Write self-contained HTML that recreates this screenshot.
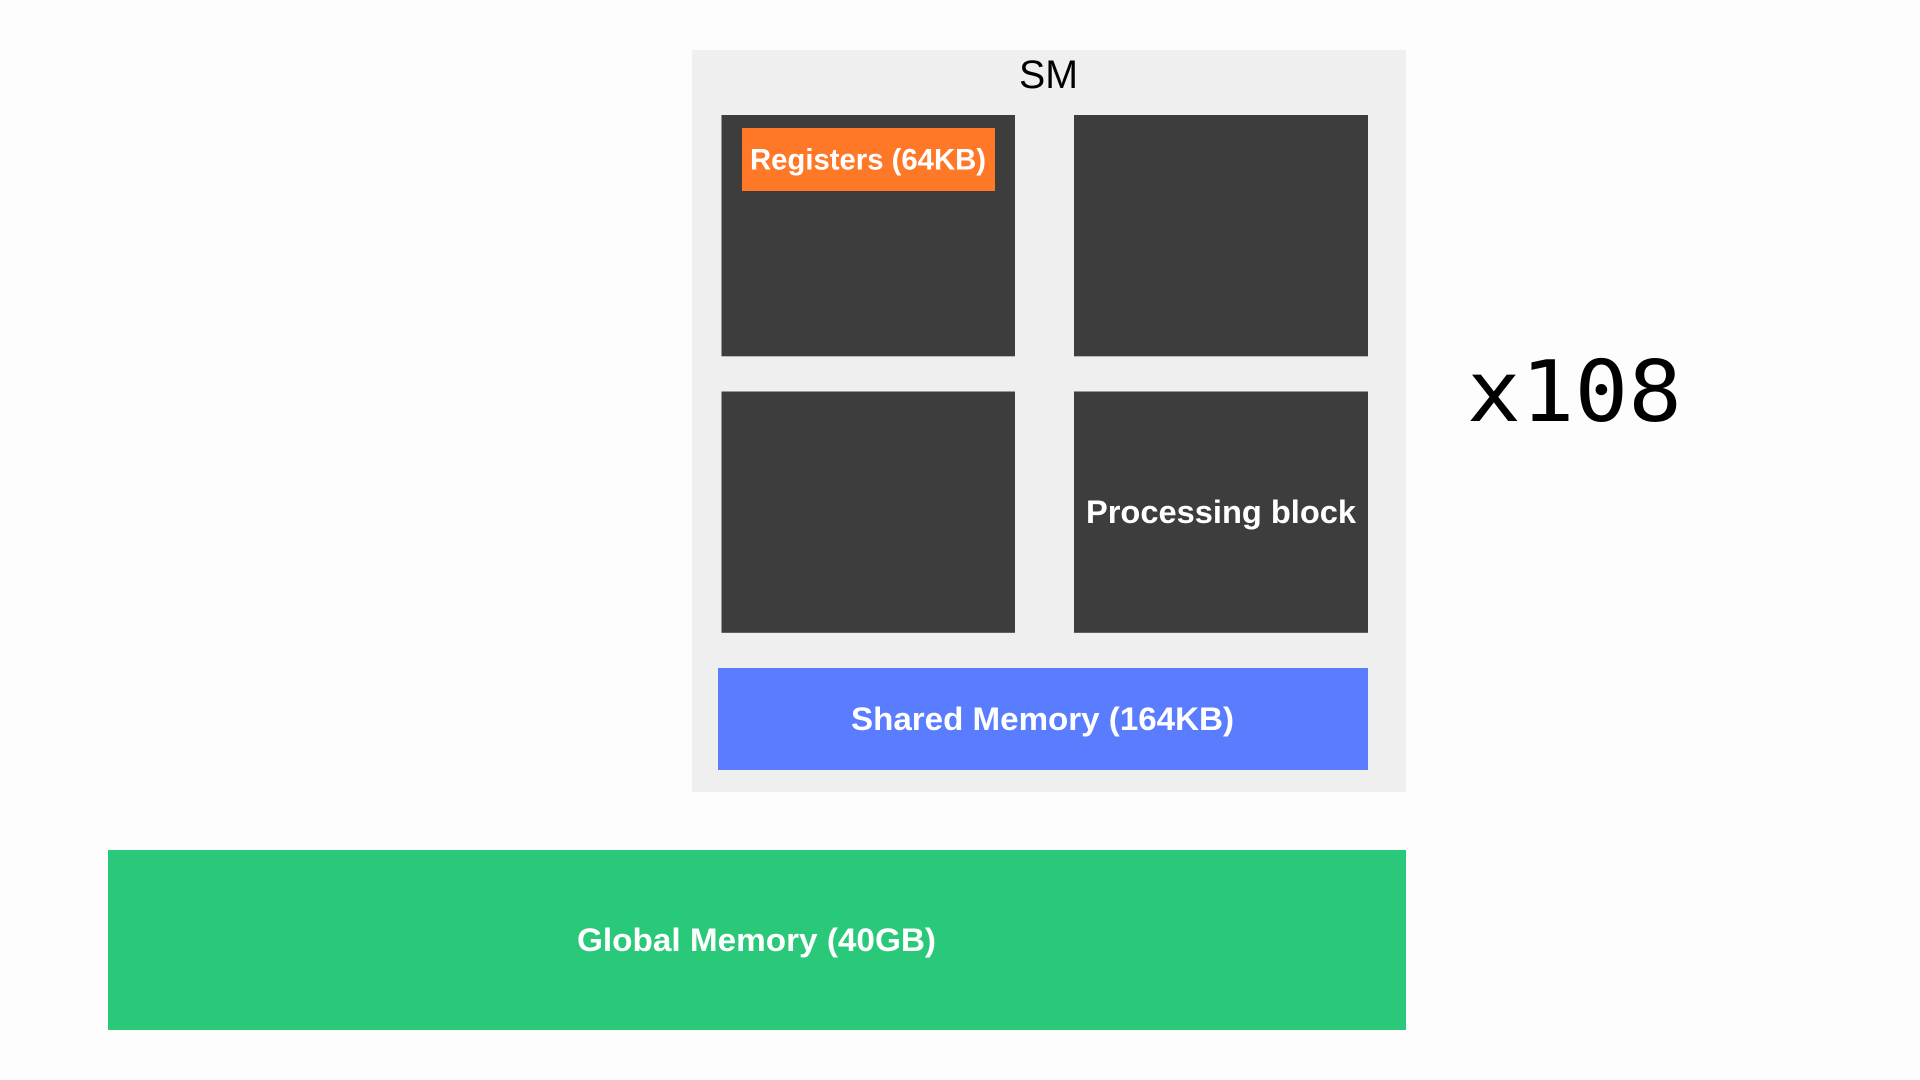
<!DOCTYPE html>
<html><head><meta charset="utf-8"><style>
html,body{margin:0;padding:0;background:#fdfdfd;width:1920px;height:1080px;overflow:hidden}
svg{display:block}
text{font-family:"Liberation Sans",sans-serif}
.b{font-weight:700;font-size:32px;fill:#fff}
</style></head><body>
<svg width="1920" height="1080" viewBox="0 0 1920 1080" xmlns="http://www.w3.org/2000/svg">
<rect width="1920" height="1080" fill="#fdfdfd"/>
<rect x="692" y="50" width="714" height="742" fill="#efefef"/>
<rect x="721.5" y="115" width="293.5" height="241.3" fill="#3d3d3d"/>
<rect x="1074" y="115" width="294" height="241.3" fill="#3d3d3d"/>
<rect x="721.5" y="391.5" width="293.5" height="241.3" fill="#3d3d3d"/>
<rect x="1074" y="391.5" width="294" height="241.3" fill="#3d3d3d"/>
<rect x="742" y="128" width="253" height="63" fill="#ff7828"/>
<rect x="718" y="668" width="650" height="102" fill="#5a7dff"/>
<rect x="108" y="850" width="1298" height="180" fill="#2ac979"/>
<text x="1019" y="88" font-size="40" fill="#000" textLength="59" lengthAdjust="spacingAndGlyphs">SM</text>
<text class="b" x="750" y="169.5" style="font-size:30px" textLength="236" lengthAdjust="spacingAndGlyphs">Registers (64KB)</text>
<text class="b" x="1086" y="523" textLength="270" lengthAdjust="spacingAndGlyphs">Processing block</text>
<text class="b" x="851" y="730" textLength="383" lengthAdjust="spacingAndGlyphs">Shared Memory (164KB)</text>
<text class="b" x="577" y="951" textLength="359" lengthAdjust="spacingAndGlyphs">Global Memory (40GB)</text>
<text x="1467" y="421" style="font-family:'DejaVu Sans Mono',monospace" font-size="85" fill="#000" textLength="215" lengthAdjust="spacingAndGlyphs">x108</text>
</svg>
</body></html>
